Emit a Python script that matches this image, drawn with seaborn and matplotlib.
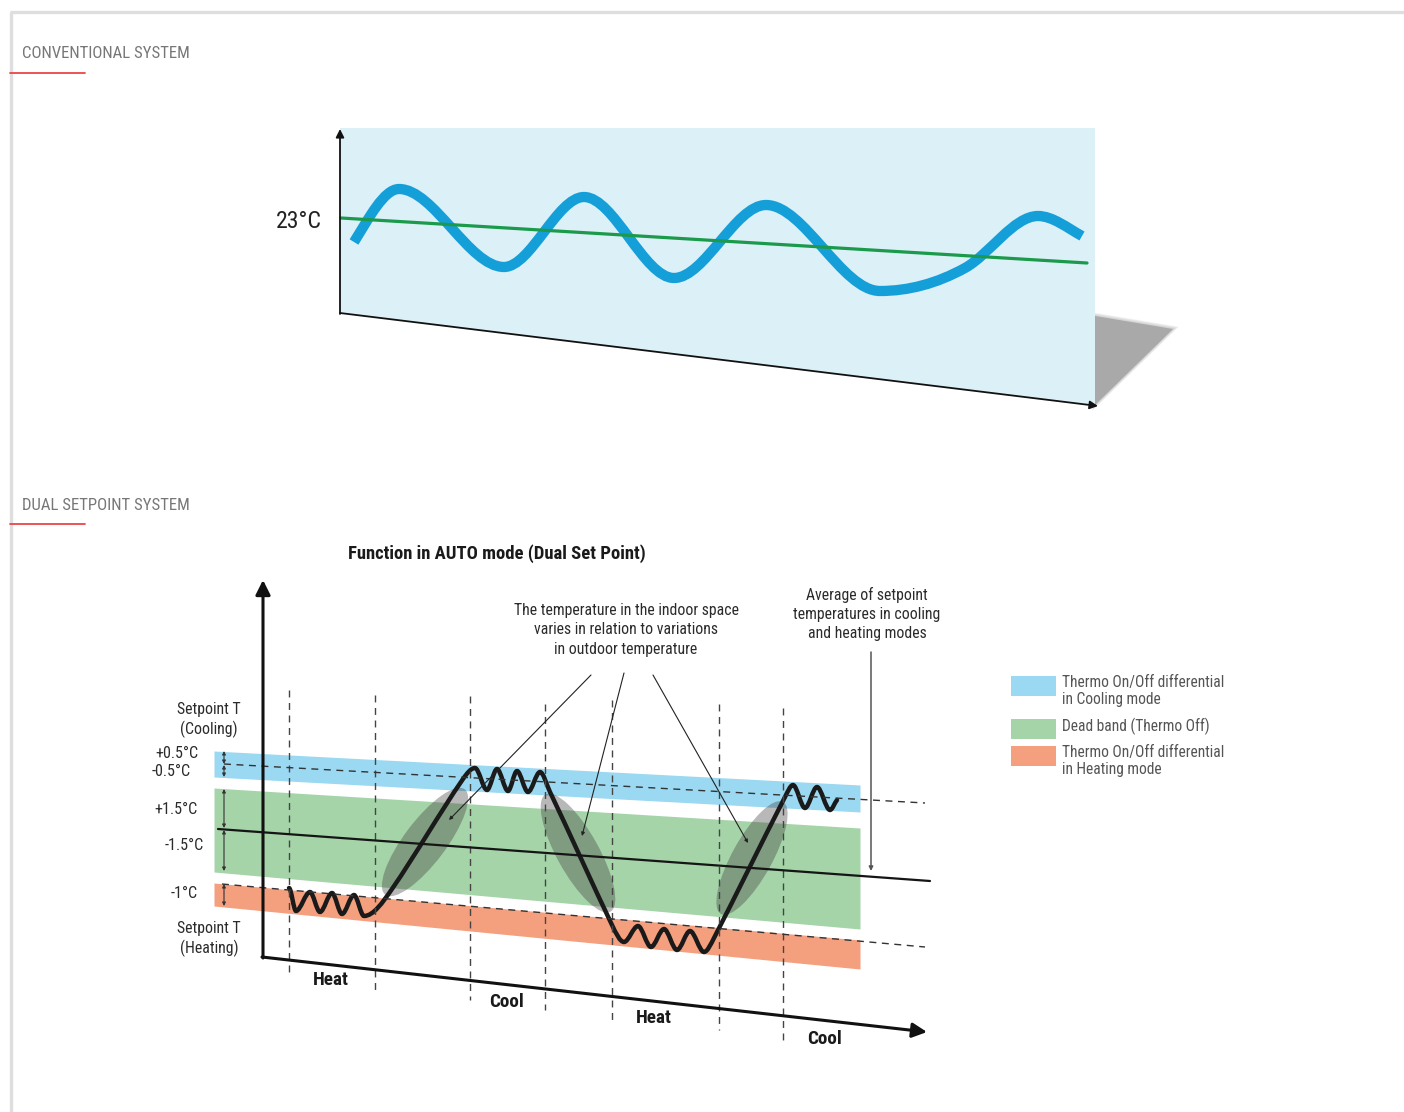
import numpy as np
import pandas as pd
import seaborn as sns
import matplotlib.pyplot as plt
from matplotlib.path import Path
from matplotlib.patches import PathPatch, Polygon, Ellipse, Rectangle
from matplotlib import font_manager

# ---------------- data (page pixel space) ----------------
# conventional system: indoor temperature wave and setpoint line
wave_x = [354, 399, 504, 584, 674, 766, 880, 965, 1038, 1082]
wave_y = [242, 189, 267, 197, 278, 205, 291, 268, 216, 236]
wave_slope = [-1.6, 0, 0, 0, 0, 0, 0, -0.55, 0, 0.55]
setpoint_x = [341, 1087]
setpoint_y = [218, 263]
panel_x = [340, 1095, 1095, 340]
panel_y = [128, 128, 405, 313]

# dual setpoint: bands (left edge, right edge)
band_x = [214, 860]
cool_top, cool_bot = [751, 785], [777, 812]
dead_top, dead_bot = [788, 828], [872, 929]
heat_top, heat_bot = [883, 940], [906, 969]
cool_sp_x, cool_sp_y = [224, 925], [764, 803]
heat_sp_x, heat_sp_y = [222, 925], [884, 947]
avg_x, avg_y = [218, 930], [829, 881]

# indoor temperature trace (knots + slopes)
trace_x = [289, 296, 310, 320, 332, 342, 354, 364, 392, 463, 475, 487, 497, 508, 517, 528, 540,
           550, 612, 624, 638, 651, 664, 677, 690, 704, 714, 785, 793, 805, 817, 830, 837]
trace_y = [888, 911, 892, 912, 893, 914, 895, 916, 889, 779, 768, 790, 769, 791, 771, 792, 772,
           792, 925, 942, 926, 947, 929, 950, 931, 952, 938, 797, 785, 808, 787, 810, 800]
trace_slope = [0, 0, 0, 0, 0, 0, 0, 0, -1.45, -1.45, 0, 0, 0, 0, 0, 0, 0,
               2.1, 2.1, 0, 0, 0, 0, 0, 0, 0, -1.95, -1.95, 0, 0, 0, 0, -1.2]

# transition ellipses: centre x, centre y, length, width, angle
ell_cx = [425, 578, 752]
ell_cy = [842, 853, 858]
ell_len = [132, 134, 128]
ell_wid = [42, 42, 40]
ell_ang = [-53, 61, -61]

# mode switch markers
vline_x = [289, 375, 470, 545, 612, 719, 783]
vline_top = [690, 695, 696, 704, 700, 704, 708]
vline_bot = [975, 990, 1000, 1010, 1020, 1030, 1040]

phase_names = ['Heat', 'Cool', 'Heat', 'Cool']
phase_x = [331, 506, 654, 825]
phase_y = [980, 1002, 1018, 1039]

left_labels = ['+0.5°C', '-0.5°C', '+1.5°C', '-1.5°C', '-1°C']
left_label_x = [198, 191, 198, 204, 198]
left_label_y = [753, 772, 809, 846, 894]
diff_arrow_top = [751, 765, 789, 830, 884]
diff_arrow_bot = [764, 777, 828, 871, 906]

legend_labels = ['Thermo On/Off differential\nin Cooling mode', 'Dead band (Thermo Off)',
                 'Thermo On/Off differential\nin Heating mode']
legend_y = [676, 719, 746]

BLUE_BAND = '#9bd8f1'
GREEN_BAND = '#a6d4a9'
ORANGE_BAND = '#f49f7e'

# ---------------- helpers ----------------
def hermite_path(xs, ys, ms):
    verts = [(xs[0], ys[0])]
    codes = [Path.MOVETO]
    for i in range(len(xs) - 1):
        d = (xs[i + 1] - xs[i]) / 3.0
        verts += [(xs[i] + d, ys[i] + d * ms[i]),
                  (xs[i + 1] - d, ys[i + 1] - d * ms[i + 1]),
                  (xs[i + 1], ys[i + 1])]
        codes += [Path.CURVE4] * 3
    return Path(verts, codes)


def arrow(ax, start, end, lw=1.0, ms=10, color='#111111', style='-|>'):
    ax.annotate('', xy=end, xytext=start,
                arrowprops=dict(arrowstyle=style, color=color, lw=lw, mutation_scale=ms,
                                shrinkA=0, shrinkB=0))


sns.set_theme(style='white')
names = {f.name for f in font_manager.fontManager.ttflist}
FONT = 'DejaVu Sans'
for cand in ['Roboto Condensed', 'Liberation Sans Narrow', 'Roboto']:
    if cand in names:
        FONT = cand
        break
plt.rcParams['font.family'] = [FONT, 'DejaVu Sans']

fig = plt.figure(figsize=(14.04, 11.12), dpi=100)
ax = fig.add_axes([0, 0, 1, 1])

# page frame and headers
ax.plot([10, 1404], [12, 12], color='#dedede', lw=2.4, solid_capstyle='butt')
ax.plot([11, 11], [12, 1112], color='#dedede', lw=2.4, solid_capstyle='butt')
for txt, ty, ly in [('CONVENTIONAL SYSTEM', 53, 73), ('DUAL SETPOINT SYSTEM', 505, 524)]:
    ax.text(22, ty, txt, fontsize=12.1, color='#777777', va='center', ha='left')
    ax.plot([10, 85], [ly, ly], color='#e8474a', lw=1.3)

# ---------------- conventional system ----------------
sx, sy = [1095, 1173, 1095], [316, 329, 405]
for k in range(5, 0, -1):
    cx, cy = np.mean(sx), np.mean(sy)
    grow = 1 + 0.022 * k
    pts = [(cx + (a - cx) * grow, cy + (b - cy) * grow) for a, b in zip(sx, sy)]
    ax.add_patch(Polygon(pts, closed=True, color='#a9a9a9', alpha=0.13, lw=0))
ax.add_patch(Polygon(list(zip(sx, sy)), closed=True, color='#a9a9a9', lw=0))
ax.add_patch(Polygon(list(zip(panel_x, panel_y)), closed=True, color='#dbf0f7', lw=0))

arrow(ax, (340, 314), (340, 129), lw=1.3, ms=12)
arrow(ax, (340, 313), (1098, 406), lw=1.3, ms=12)

ax.add_patch(PathPatch(hermite_path(wave_x, wave_y, wave_slope), fill=False,
                       edgecolor='#159fd9', lw=7.4, capstyle='butt'))
sns.lineplot(x=setpoint_x, y=setpoint_y, ax=ax, color='#1a9a4a', lw=2.3)
ax.text(322, 221, '23°C', fontsize=17.2, color='#222222', ha='right', va='center')

# ---------------- dual setpoint system ----------------
ax.text(497, 554, 'Function in AUTO mode (Dual Set Point)', fontsize=13.4, fontweight='bold',
        color='#1a1a1a', ha='center', va='center')

ax.fill_between(band_x, cool_top, cool_bot, color=BLUE_BAND, lw=0)
ax.fill_between(band_x, dead_top, dead_bot, color=GREEN_BAND, lw=0)
ax.fill_between(band_x, heat_top, heat_bot, color=ORANGE_BAND, lw=0)

for cx, cy, ln, wd, an in zip(ell_cx, ell_cy, ell_len, ell_wid, ell_ang):
    ax.add_patch(Ellipse((cx, cy), ln, wd, angle=an, facecolor='#3a3a3a', alpha=0.36, lw=0))

ax.vlines(vline_x, vline_top, vline_bot, colors='#444444', lw=1.0, linestyles=(0, (5, 4)))
sns.lineplot(x=cool_sp_x, y=cool_sp_y, ax=ax, color='#333333', lw=1.0, ls=(0, (5, 4)))
sns.lineplot(x=heat_sp_x, y=heat_sp_y, ax=ax, color='#333333', lw=1.0, ls=(0, (5, 4)))
sns.lineplot(x=avg_x, y=avg_y, ax=ax, color='#151515', lw=1.6)

ax.add_patch(PathPatch(hermite_path(trace_x, trace_y, trace_slope), fill=False,
                       edgecolor='#1a1a1a', lw=3.2, capstyle='round', joinstyle='round'))

# axes of the diagram
arrow(ax, (263, 958), (263, 580), lw=2.2, ms=22)
arrow(ax, (262, 957), (927, 1032), lw=2.2, ms=22)

# differential arrows on the left
for t, b in zip(diff_arrow_top, diff_arrow_bot):
    arrow(ax, (224, t), (224, b), lw=0.8, ms=5, color='#333333', style='<|-|>')

for txt, lx, ly in zip(left_labels, left_label_x, left_label_y):
    ax.text(lx, ly, txt, fontsize=11.6, color='#2b2b2b', ha='right', va='center')
ax.text(209, 720, 'Setpoint T\n(Cooling)', fontsize=11.4, color='#2b2b2b', ha='center',
        va='center', linespacing=1.3)
ax.text(209, 939, 'Setpoint T\n(Heating)', fontsize=11.4, color='#2b2b2b', ha='center',
        va='center', linespacing=1.3)

for txt, px, py in zip(phase_names, phase_x, phase_y):
    ax.text(px, py, txt, fontsize=13.8, fontweight='bold', color='#1a1a1a', ha='center', va='center')

# annotations
ax.text(626, 630, 'The temperature in the indoor space\nvaries in relation to variations\n'
        'in outdoor temperature', fontsize=11.3, color='#2b2b2b', ha='center', va='center',
        linespacing=1.35)
ax.text(867, 614, 'Average of setpoint\ntemperatures in cooling\nand heating modes',
        fontsize=11.3, color='#2b2b2b', ha='center', va='center', linespacing=1.35)
for s, e in [((591, 675), (449, 820)), ((624, 673), (582, 836)), ((653, 675), (748, 843))]:
    arrow(ax, s, e, lw=0.8, ms=5, color='#222222')
arrow(ax, (871, 652), (871, 871), lw=1.1, ms=6, color='#555555')

# legend
for (lab, ly), col in zip(zip(legend_labels, legend_y), [BLUE_BAND, GREEN_BAND, ORANGE_BAND]):
    ax.add_patch(Rectangle((1011, ly), 45, 20, color=col, lw=0))
    ax.text(1062, ly - 1.5, lab, fontsize=11.2, color='#555555', ha='left', va='top',
            linespacing=1.2)

ax.set_xlim(0, 1404)
ax.set_ylim(1112, 0)
ax.axis('off')
fig.savefig('out.png', dpi=100, facecolor='white')
